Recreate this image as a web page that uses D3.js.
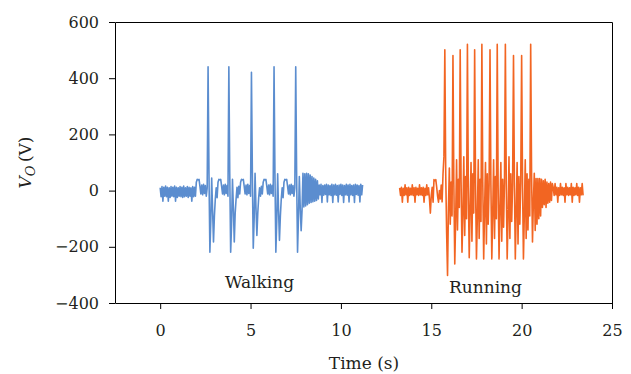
<!DOCTYPE html>
<html>
<head>
<meta charset="utf-8">
<script src="https://cdn.jsdelivr.net/npm/d3@7"></script>
<style>
  html, body { margin: 0; padding: 0; background: #ffffff; }
  svg { display: block; font-family: "DejaVu Serif", serif; }
</style>
</head>
<body>
<svg id="chart" width="631" height="374"></svg>
<script>
// Axis ticks
const xTicks = [0, 5, 10, 15, 20, 25];
const yTicks = [-400, -200, 0, 200, 400, 600];

// Output voltage traces, sampled every 50 ms
const sampleStep = 0.05;

const walkingStart = 0;
const walkingVolts = [
  10, -22, 14, -38, 12, -20, 16, -22, 12, -38,
  10, -24, 14, -20, 12, -22, 16, -38, 12, -24,
  10, -20, 14, -22, 12, -24, 16, -22, 10, -20,
  14, -24, 12, -20, 10, -38, 14, -22, 12, -20,
  30, 40, 38, 40, 15, -12, 20, -15, 22, -10, 18, -20, 10,
  441,
  60, -219, -110, 45, -70, -183, -90, -30, 10, -25,
  30, 40, 38, 40, 15, -12, 20, -15, 22, -10, 18, -20,
  441,
  60, -219, -120, 40, -60, -183, -80, -30, 12, -25,
  15, -12, 30, 40, 38, 40, 15, -12, 20, -15, 22, -10, 18, -20,
  421,
  62, -205, -100, 62, -60, -160, -80, -25, 10, -20,
  15, -12, 30, 40, 38, 40, 15, -12, 20, -15, 22, -10, 18, -20,
  441,
  60, -219, -110, 60, -70, -177, -90, -30, 10, -25,
  30, 40, 38, 40, 15, -12, 20, -15, 22, -10, 18, -20, 10,
  441,
  55, -219, -100, 50, -60, -143, -70, 62, -58, 60,
  -55, 62, -50, 60, -45, 55, -42, 50, -40, 45, -38, 40, -35, 35, -30,
  20, -15, 22, -42, 18, -16, 20, -14, 22, -40,
  20, -15, 18, -17, 22, -42, 20, -15, 22, -16,
  18, -40, 20, -14, 22, -17, 20, -42, 18, -15,
  22, -16, 20, -40, 22, -15, 18, -17, 20, -42,
  22, -14, 20, -16, 18, -40, 22, -15, 20
];

const runningStart = 13.25;
const runningVolts = [
  10, -17, 12, -41, 8, -17, 21, -15, 10, -41,
  12, -17, 8, -15, 21, -17, 10, -41, 12, -15,
  8, -17, 21, -15, 10, -17, 12, -41, 8, -17,
  21, -15, 10, -30, -80, -17, 12, -41,
  39, 35, 39, 12, -20, -41, 0, -30, 20, -40, 60, 120,
  501, 60, -150, -302, -60, 80, -120, 30, -90,
  481, 20, -261, -100, 110, -140, 40, -60,
  501, 30, -219, -80, 120, -160, 50, -100,
  521, 10, -239, -60, 100, -180, 60, -80,
  501, 20, -243, -90, 110, -170, 40, -110,
  521, 30, -243, -70, 100, -190, 60, -120, 20,
  501, 20, -243, -80, 110, -170, 50, -100,
  521, 10, -243, -60, 100, -180, 40, -130, 30,
  521, 20, -243, -90, 120, -170, 60, -110, 20,
  481, 30, -243, -70, 100, -190, 50, -120, 30,
  481, 20, -243, -80, 110, -170, 60, -140, 40, -90,
  521, 60, -183, -40, 62, -142, 43, -120, 43, -100, 43, -90, 40, -60, 35, -50,
  40, -60, 30, -45, 25, -41, 30, -35, 25,
  10, -17, 25, -15, 12, -41, 10, -17, 25, -15,
  12, -17, 10, -41, 25, -15, 12, -17, 10, -15,
  25, -41, 12, -17, 10, -15, 25, -17, 12, -41,
  10, -15, 25, -17
];

// Text annotations placed in data coordinates (time, volts)
const seriesLabels = [
  { text: "Walking", t: 5.5, v: -345 },
  { text: "Running", t: 18.0, v: -365 }
];

const colors = { walking: "#5b8dcf", running: "#f26522", ink: "#231f20" };

const svg = d3.select("#chart");
const plotLeft = 115, plotRight = 612, plotTop = 22, plotBottom = 303;

const x = d3.scaleLinear().domain([-2.5, 25]).range([plotLeft, plotRight]);
const y = d3.scaleLinear().domain([-400, 600]).range([plotBottom, plotTop]);

// Traces
const trace = (start) => d3.line()
  .x((d, i) => x(start + i * sampleStep))
  .y(d => y(d));

svg.append("path")
  .datum(walkingVolts)
  .attr("fill", "none")
  .attr("stroke", colors.walking)
  .attr("stroke-width", 1.6)
  .attr("stroke-linejoin", "round")
  .attr("d", trace(walkingStart));

svg.append("path")
  .datum(runningVolts)
  .attr("fill", "none")
  .attr("stroke", colors.running)
  .attr("stroke-width", 1.6)
  .attr("stroke-linejoin", "round")
  .attr("d", trace(runningStart));

// Axes
const xAxis = d3.axisBottom(x).tickValues(xTicks).tickSize(6).tickSizeOuter(0).tickPadding(16)
  .tickFormat(d3.format("d"));
const yAxis = d3.axisLeft(y).tickValues(yTicks).tickSize(6).tickSizeOuter(0).tickPadding(10)
  .tickFormat(d => d < 0 ? "\u2212" + Math.abs(d) : String(d));

const gx = svg.append("g").attr("transform", `translate(0,${plotBottom})`).call(xAxis);
const gy = svg.append("g").attr("transform", `translate(${plotLeft},0)`).call(yAxis);

[gx, gy].forEach(g => {
  g.selectAll("text").attr("font-family", "DejaVu Serif, serif").attr("font-size", 16).attr("fill", colors.ink);
  g.selectAll("line").attr("stroke", "#000");
  g.select(".domain").attr("stroke", "#000");
});

// Top and right frame edges
svg.append("line")
  .attr("x1", plotLeft + 0.5).attr("x2", plotRight + 0.5)
  .attr("y1", plotTop + 0.5).attr("y2", plotTop + 0.5)
  .attr("stroke", "#000");
svg.append("line")
  .attr("x1", plotRight + 0.5).attr("x2", plotRight + 0.5)
  .attr("y1", plotTop + 0.5).attr("y2", plotBottom + 0.5)
  .attr("stroke", "#000");

// Axis titles
svg.append("text")
  .attr("x", (plotLeft + plotRight) / 2 + 0.5)
  .attr("y", 369)
  .attr("text-anchor", "middle")
  .attr("font-size", 17)
  .attr("fill", colors.ink)
  .text("Time (s)");

const yTitle = svg.append("text")
  .attr("transform", `translate(31,${(plotTop + plotBottom) / 2}) rotate(-90)`)
  .attr("text-anchor", "middle")
  .attr("font-size", 17)
  .attr("fill", colors.ink);
yTitle.append("tspan").attr("font-style", "italic").text("V");
yTitle.append("tspan").attr("font-style", "italic").attr("font-size", 13).attr("dy", 4).text("O");
yTitle.append("tspan").attr("dy", -4).text("\u2009(V)");

// Series labels
svg.selectAll("text.series-label")
  .data(seriesLabels)
  .enter().append("text")
  .attr("class", "series-label")
  .attr("x", d => x(d.t))
  .attr("y", d => y(d.v))
  .attr("text-anchor", "middle")
  .attr("font-size", 17)
  .attr("fill", colors.ink)
  .text(d => d.text);
</script>
</body>
</html>
